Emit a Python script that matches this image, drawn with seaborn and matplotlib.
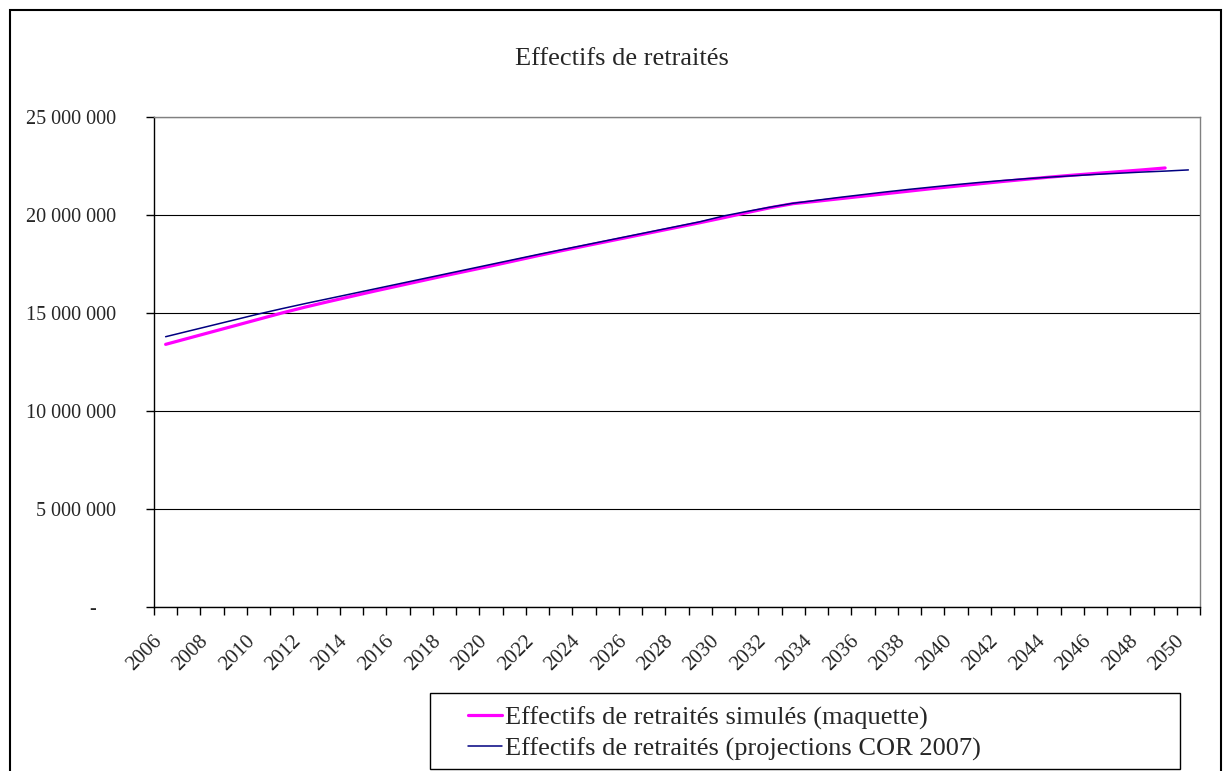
"""
Effectifs de retraités : maquette vs projections COR 2007 (2006-2050).
"""

import numpy as np
import pandas as pd
import seaborn as sns
import matplotlib.pyplot as plt
from matplotlib.patches import Rectangle
from matplotlib.ticker import FuncFormatter

TITLE = "Effectifs de retraités"
LABEL_SIM = "Effectifs de retraités simulés (maquette)"
LABEL_COR = "Effectifs de retraités (projections COR 2007)"

years = list(range(2006, 2051))

# millions of retirees
cor_2007 = [13.79, 14.08, 14.37, 14.66, 14.95, 15.22, 15.48, 15.73, 15.98, 16.23,
            16.48, 16.73, 16.98, 17.23, 17.48, 17.73, 17.98, 18.22, 18.46, 18.70,
            18.94, 19.18, 19.42, 19.66, 19.95, 20.18, 20.40, 20.60, 20.75, 20.90,
            21.04, 21.18, 21.31, 21.43, 21.55, 21.66, 21.76, 21.85, 21.93, 22.00,
            22.07, 22.13, 22.19, 22.24, 22.30]

simules = [13.40, 13.72, 14.04, 14.36, 14.68, 15.00, 15.30, 15.58, 15.85, 16.12,
           16.38, 16.64, 16.90, 17.15, 17.40, 17.66, 17.92, 18.17, 18.41, 18.65,
           18.89, 19.13, 19.37, 19.61, 19.86, 20.12, 20.37, 20.58, 20.70, 20.83,
           20.96, 21.09, 21.22, 21.35, 21.47, 21.59, 21.71, 21.82, 21.93, 22.03,
           22.12, 22.21, 22.30, 22.40]

y_ticks = [0, 5_000_000, 10_000_000, 15_000_000, 20_000_000, 25_000_000]
x_labels = list(range(2006, 2051, 2))


def fmt_y(v, pos):
    if v == 0:
        return "-    "
    return f"{v:,.0f}".replace(",", " ")


def main():
    sns.set_style("white")
    plt.rcParams["font.family"] = ["Liberation Serif", "DejaVu Serif"]

    df_sim = pd.DataFrame({"Année": years[:len(simules)],
                           "Effectifs": np.array(simules) * 1e6})
    df_cor = pd.DataFrame({"Année": years, "Effectifs": np.array(cor_2007) * 1e6})

    fig = plt.figure(figsize=(12.23, 7.71), dpi=100)
    ax = fig.add_axes([154 / 1223, 1 - 607 / 771, 1046 / 1223, 490 / 771])

    sns.lineplot(data=df_sim, x="Année", y="Effectifs", ax=ax, color="#FF00FF",
                 linewidth=2.3, label=LABEL_SIM)
    sns.lineplot(data=df_cor, x="Année", y="Effectifs", ax=ax, color="#000080",
                 linewidth=1.1, label=LABEL_COR)

    ax.set_xlim(2005.5, 2050.5)
    ax.set_ylim(0, 25_000_000)
    ax.set_xlabel("")
    ax.set_ylabel("")

    # y axis
    ax.set_yticks(y_ticks)
    ax.yaxis.set_major_formatter(FuncFormatter(fmt_y))
    ax.tick_params(axis="y", which="major", direction="out", length=6, width=1,
                   color="black", pad=21, labelsize=14.5, left=True)
    ax.yaxis.grid(True, color="black", linewidth=0.8)
    ax.xaxis.grid(False)

    # x axis: ticks between categories, labels every 2 years
    ax.set_xticks(np.arange(2005.5, 2051, 1.0))
    ax.set_xticklabels([])
    ax.set_xticks(x_labels, minor=True)
    ax.set_xticklabels([str(y) for y in x_labels], minor=True, rotation=45,
                       ha="right", va="top", fontsize=15)
    ax.tick_params(axis="x", which="major", direction="out", length=6, width=1,
                   color="black", bottom=True)
    ax.tick_params(axis="x", which="minor", length=0, pad=18, bottom=True)

    for side in ["left", "bottom"]:
        ax.spines[side].set_color("black")
        ax.spines[side].set_linewidth(1)
    for side in ["top", "right"]:
        ax.spines[side].set_color("#808080")
        ax.spines[side].set_linewidth(1)

    fig.text(622 / 1223, 1 - 59 / 771, TITLE, ha="center", va="center", fontsize=19)

    # legend with its own frame
    ax.get_legend().remove()
    handles, labels = ax.get_legend_handles_labels()
    fig.legend(handles, labels, loc="upper left",
               bbox_to_anchor=(468 / 1223, 1 - 706 / 771), frameon=False,
               fontsize=19, handlelength=1.3, handletextpad=0.1,
               borderpad=0, borderaxespad=0, labelspacing=0.26)
    fig.add_artist(Rectangle((430 / 1223, 1 - 769 / 771), 750 / 1223, 76 / 771,
                             transform=fig.transFigure, fill=False,
                             edgecolor="black", linewidth=1))

    # outer chart frame
    fig.add_artist(Rectangle((10 / 1223, -0.05), 1211 / 1223, 1.05 - 10 / 771,
                             transform=fig.transFigure, fill=False,
                             edgecolor="black", linewidth=1.5))

    fig.savefig("out.png", dpi=100)
    plt.close(fig)


if __name__ == "__main__":
    main()
